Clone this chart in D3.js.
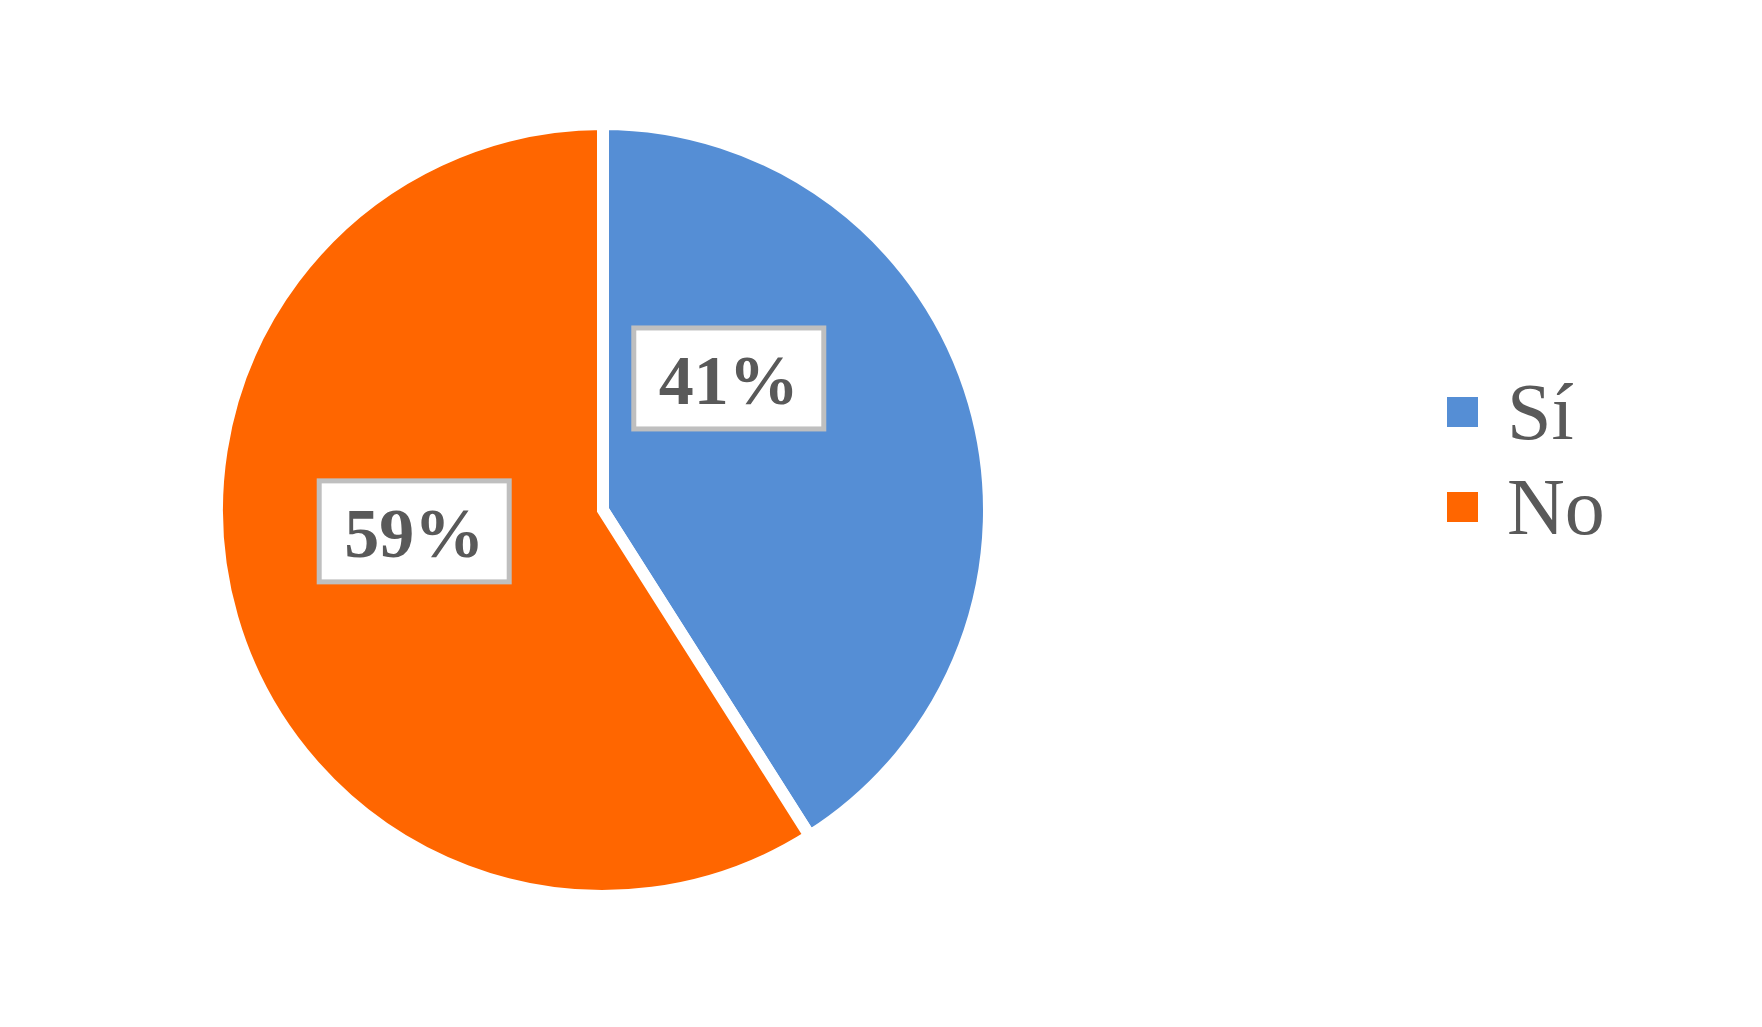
<!DOCTYPE html>
<html>
<head>
<meta charset="utf-8">
<script src="https://cdn.jsdelivr.net/npm/d3@7"></script>
<style>
html,body{margin:0;padding:0;background:#fff;}
svg{display:block;}
</style>
</head>
<body>
<svg id="chart" width="1762" height="1027"></svg>
<script>
const categories = ["Sí", "No"];
const values = [41, 59];
const labels = ["41%", "59%"];
const colors = ["#558ed5", "#ff6600"];

const svg = d3.select("#chart");
const cx = 603, cy = 510, R = 386;
const g = svg.append("g").attr("transform", `translate(${cx},${cy})`);

const pie = d3.pie().sort(null).value(d => d)(values);
const arc = d3.arc().innerRadius(0).outerRadius(R);
const color = d3.scaleOrdinal().domain(categories).range(colors);

g.selectAll("path.slice").data(pie).enter().append("path")
  .attr("class", "slice")
  .attr("d", arc)
  .attr("fill", (d, i) => color(categories[i]))
  .attr("stroke", "#fff")
  .attr("stroke-width", 12)
  .attr("stroke-linejoin", "miter");

// label placement (Excel "best fit" style): angle shift and radius per slice
const labelLayout = [{shift: -0.525, r: 182}, {shift: 0.17, r: 190}];
const boxW = 195, boxH = 106;
const lg = g.selectAll("g.lbl").data(pie).enter().append("g").attr("class", "lbl")
  .attr("transform", (d, i) => {
    const a = (d.startAngle + d.endAngle) / 2 + labelLayout[i].shift;
    const r = labelLayout[i].r;
    return `translate(${r * Math.sin(a)},${-r * Math.cos(a)})`;
  });
lg.append("rect")
  .attr("x", -boxW / 2 + 2.5).attr("y", -boxH / 2 + 2.5)
  .attr("width", boxW - 5).attr("height", boxH - 5)
  .attr("fill", "#fff").attr("stroke", "#bfbfbf").attr("stroke-width", 5);
lg.append("text")
  .attr("text-anchor", "middle")
  .attr("y", 26)
  .attr("font-family", "'Liberation Serif', 'DejaVu Serif', serif")
  .attr("font-weight", "bold")
  .attr("font-size", 70)
  .attr("fill", "#595959")
  .text((d, i) => labels[i]);

// legend
const legend = svg.append("g").attr("transform", "translate(1447,397)");
const li = legend.selectAll("g").data(categories).enter().append("g")
  .attr("transform", (d, i) => `translate(0,${i * 95})`);
li.append("rect").attr("width", 31).attr("height", 30).attr("fill", d => color(d));
li.append("text")
  .attr("x", 60).attr("y", 42)
  .attr("font-family", "'Liberation Serif', 'DejaVu Serif', serif")
  .attr("font-size", 80)
  .attr("fill", "#595959")
  .text(d => d);
</script>
</body>
</html>
